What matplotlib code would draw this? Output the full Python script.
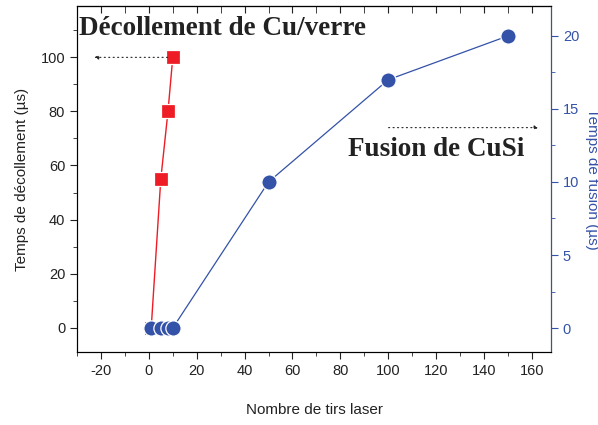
import matplotlib.pyplot as plt
from matplotlib.ticker import MultipleLocator, NullFormatter

RED = "#ee1c25"
BLUE = "#3352a8"

# data
shots_decol = [1, 5, 8, 10]
t_decol = [0, 55, 80, 100]
shots_fusion = [1, 5, 8, 10, 50, 100, 150]
t_fusion = [0, 0, 0, 0, 10, 17, 20]

plt.rcParams["font.family"] = ["Liberation Sans", "DejaVu Sans"]
plt.rcParams["axes.unicode_minus"] = False

fig = plt.figure(figsize=(5.98, 4.25), dpi=100)
ax = fig.add_axes([0.1288, 0.1718, 0.7926, 0.8141])
ax2 = ax.twinx()

ax.plot(shots_decol, t_decol, color=RED, lw=1, marker="s", ms=9.5,
        mfc=RED, mec="white", mew=0.9, zorder=3)
ax2.plot(shots_fusion, t_fusion, color=BLUE, lw=0.9, marker="o", ms=11,
         mfc=BLUE, mec="white", mew=0.9, zorder=3)

ax.set_xlim(-30, 168)
ax.set_ylim(-9, 119)
ax2.set_ylim(-1.64, 22.05)

ax.xaxis.set_major_locator(MultipleLocator(20))
ax.xaxis.set_minor_locator(MultipleLocator(10))
ax.yaxis.set_major_locator(MultipleLocator(20))
ax.yaxis.set_minor_locator(MultipleLocator(10))
ax2.yaxis.set_major_locator(MultipleLocator(5))
ax2.yaxis.set_minor_locator(MultipleLocator(2.5))

ax.tick_params(axis="both", which="both", direction="out", labelsize=10.5, colors="#222222")
ax.tick_params(which="major", length=5)
ax.tick_params(which="minor", length=3)
ax2.tick_params(axis="y", which="both", colors=BLUE, labelsize=10.5)
ax2.tick_params(which="major", length=5)
ax2.tick_params(which="minor", length=3)
ax2.spines["right"].set_color(BLUE)
for s in ["left", "top", "bottom"]:
    ax.spines[s].set_color("#222222")

# inward ticks on top spine, no labels
top = ax.secondary_xaxis("top")
top.xaxis.set_major_locator(MultipleLocator(20))
top.xaxis.set_minor_locator(MultipleLocator(10))
top.xaxis.set_major_formatter(NullFormatter())
top.tick_params(which="both", direction="in", colors="#222222")
top.tick_params(which="major", length=5)
top.tick_params(which="minor", length=5)

ax.set_xlabel("Nombre de tirs laser", fontsize=11, labelpad=18, color="#222222")
ax.set_ylabel("Temps de décollement (µs)", fontsize=11, color="#222222", labelpad=8)
ax2.set_ylabel("Temps de fusion (µs)", fontsize=11, color=BLUE, rotation=270, labelpad=14)

serif = ["Liberation Serif", "DejaVu Serif"]
ax.text(-29, 110.5, "Décollement de Cu/verre", fontsize=19.5, fontweight="bold",
        family=serif, color="#222222", va="center")
ax.text(83, 66, "Fusion de CuSi", fontsize=19.5, fontweight="bold",
        family=serif, color="#222222", va="center")

ax.annotate("", xy=(-24, 100), xytext=(9, 100),
            arrowprops=dict(arrowstyle="-|>", ls=(0, (1, 3)), lw=0.8,
                            color="#222222", mutation_scale=6))
ax.annotate("", xy=(164, 74), xytext=(99, 74),
            arrowprops=dict(arrowstyle="-|>", ls=(0, (1, 3)), lw=0.8,
                            color="#222222", mutation_scale=6))

fig.savefig("out.png", dpi=100, facecolor="white")
